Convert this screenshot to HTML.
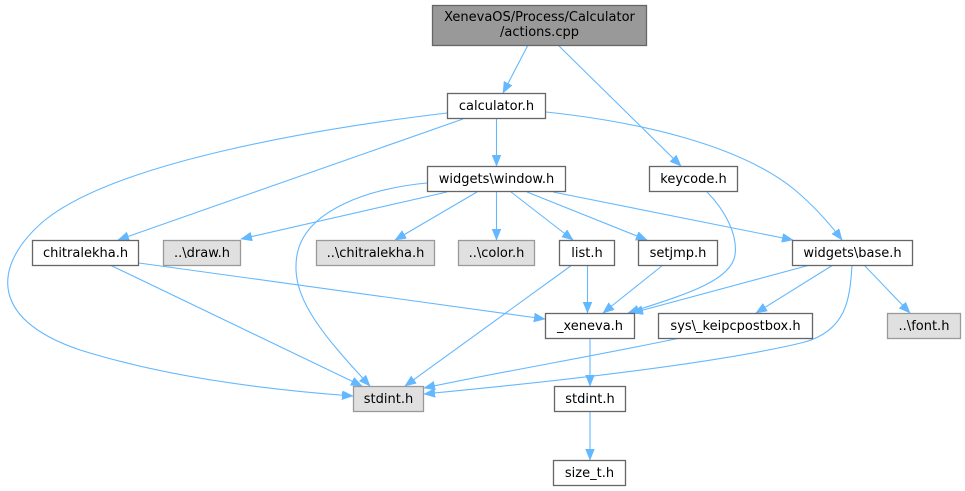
<!DOCTYPE html>
<html>
<head>
<meta charset="utf-8">
<style>
html,body{margin:0;padding:0;background:#fff;}
svg{display:block;}
text{font-family:"DejaVu Sans","Liberation Sans",sans-serif;font-size:13px;fill:#000;text-anchor:middle;}
.e{fill:none;stroke:#63b8ff;stroke-width:1.1;}
.w{fill:#fff;stroke:#666;stroke-width:1.3;}
.g{fill:#e0e0e0;stroke:#999;stroke-width:1.3;}
</style>
</head>
<body>
<svg width="965" height="491" viewBox="0 0 965 491" xmlns="http://www.w3.org/2000/svg">
<defs>
<marker id="a" markerUnits="userSpaceOnUse" markerWidth="12" markerHeight="10" refX="11" refY="4.5" orient="auto">
<path d="M0,0 L11,4.5 L0,9 z" fill="#63b8ff" stroke="#63b8ff" stroke-width="0.5"/>
</marker>
</defs>

<!-- edges -->
<path class="e" marker-end="url(#a)" d="M528,45 L503,93"/>
<path class="e" marker-end="url(#a)" d="M558,45 L681,166"/>
<path class="e" marker-end="url(#a)" d="M447,113 C330,127 120,160 45,220 C-5,262 -15,318 80,350 C170,378 270,390 353,396"/>
<path class="e" marker-end="url(#a)" d="M463,119 L118,240"/>
<path class="e" marker-end="url(#a)" d="M496.5,119 L496.5,166"/>
<path class="e" marker-end="url(#a)" d="M546,112 C640,122 740,145 795,190 C815,207 830,224 842,240"/>
<path class="e" marker-end="url(#a)" d="M447,192 L241,239"/>
<path class="e" marker-end="url(#a)" d="M427,183 C370,188 305,210 297,255 C290,295 318,330 370,386"/>
<path class="e" marker-end="url(#a)" d="M477,192 L395,240"/>
<path class="e" marker-end="url(#a)" d="M496.5,192 L496.5,240"/>
<path class="e" marker-end="url(#a)" d="M511,192 L573,240"/>
<path class="e" marker-end="url(#a)" d="M527,192 L647,240"/>
<path class="e" marker-end="url(#a)" d="M553,192 L793,240"/>
<path class="e" marker-end="url(#a)" d="M707,192 C725,210 738,235 735,255 C731,282 680,296 628,313"/>
<path class="e" marker-end="url(#a)" d="M110,265 L362,386"/>
<path class="e" marker-end="url(#a)" d="M139,263 L545,319"/>
<path class="e" marker-end="url(#a)" d="M572,265 L405,386"/>
<path class="e" marker-end="url(#a)" d="M587.5,265 L587.5,313"/>
<path class="e" marker-end="url(#a)" d="M663,265 L603,313"/>
<path class="e" marker-end="url(#a)" d="M810,265 L632,313"/>
<path class="e" marker-end="url(#a)" d="M833,265 L756,313"/>
<path class="e" marker-end="url(#a)" d="M864,265 L910,313"/>
<path class="e" marker-end="url(#a)" d="M852,265 C850,300 846,330 805,342 C720,363 560,381 424,394"/>
<path class="e" marker-end="url(#a)" d="M680,338 C600,355 500,372 424,388"/>
<path class="e" marker-end="url(#a)" d="M590,339 L590,386"/>
<path class="e" marker-end="url(#a)" d="M590,412 L590,460"/>

<!-- nodes -->
<rect x="432.5" y="5.5" width="214" height="40" fill="#999" stroke="#666" stroke-width="1.3"/>
<text x="539.5" y="21">XenevaOS/Process/Calculator</text>
<text x="539.5" y="36">/actions.cpp</text>

<rect class="w" x="447.5" y="93.5" width="98" height="25"/>
<text x="496.5" y="110">calculator.h</text>

<rect class="w" x="427.5" y="166.5" width="138" height="25"/>
<text x="496.5" y="183">widgets\window.h</text>

<rect class="w" x="649.5" y="166.5" width="88" height="25"/>
<text x="693.5" y="183">keycode.h</text>

<rect class="w" x="32.5" y="240.5" width="106" height="25"/>
<text x="85.5" y="257">chitralekha.h</text>

<rect class="g" x="163.5" y="240.5" width="77" height="25"/>
<text x="202" y="257">..\draw.h</text>

<rect class="g" x="316.5" y="240.5" width="118" height="25"/>
<text x="375.5" y="257">..\chitralekha.h</text>

<rect class="g" x="458.5" y="240.5" width="76" height="25"/>
<text x="496.5" y="257">..\color.h</text>

<rect class="w" x="559.5" y="240.5" width="55" height="25"/>
<text x="587" y="257">list.h</text>

<rect class="w" x="638.5" y="240.5" width="79" height="25"/>
<text x="678" y="257">setjmp.h</text>

<rect class="w" x="792.5" y="240.5" width="120" height="25"/>
<text x="852.5" y="257">widgets\base.h</text>

<rect class="w" x="545.5" y="313.5" width="89" height="25"/>
<text x="590" y="330">_xeneva.h</text>

<rect class="w" x="658.5" y="313.5" width="154" height="25"/>
<text x="735.5" y="330">sys\_keipcpostbox.h</text>

<rect class="g" x="887.5" y="313.5" width="73" height="25"/>
<text x="924" y="330">..\font.h</text>

<rect class="g" x="353.5" y="386.5" width="70" height="25"/>
<text x="388.5" y="403">stdint.h</text>

<rect class="w" x="554.5" y="386.5" width="71" height="25"/>
<text x="590" y="403">stdint.h</text>

<rect class="w" x="553.5" y="460.5" width="72" height="25"/>
<text x="589.5" y="477">size_t.h</text>
</svg>
</body>
</html>
